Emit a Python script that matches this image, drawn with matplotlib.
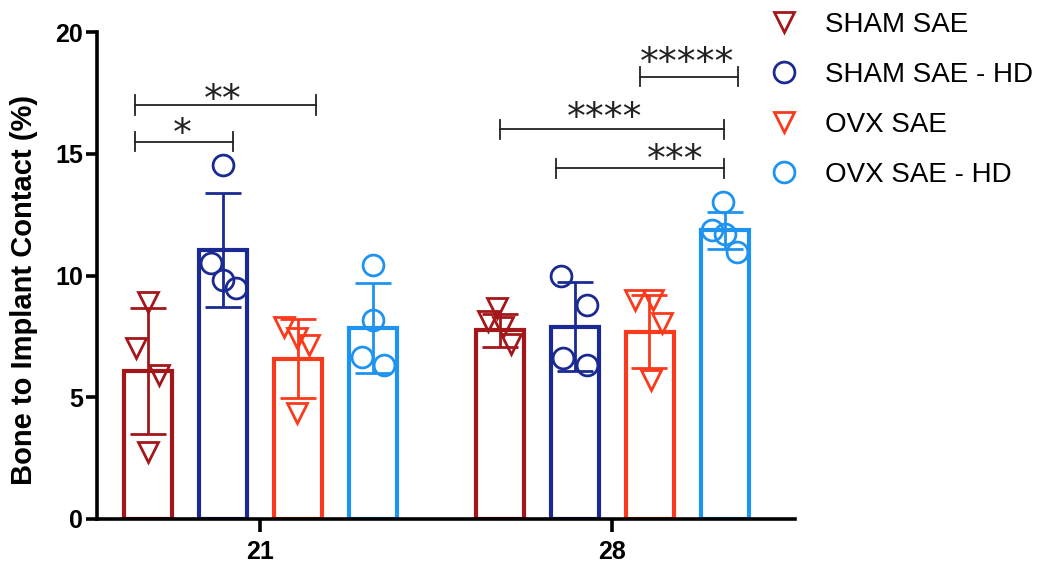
import numpy as np
import matplotlib
matplotlib.use("Agg")
import matplotlib.pyplot as plt
from matplotlib.lines import Line2D

plt.rcParams["font.family"] = ["Liberation Sans", "DejaVu Sans"]

days = ["21", "28"]
groups = ["SHAM SAE", "SHAM SAE - HD", "OVX SAE", "OVX SAE - HD"]
colors = ["#A3171B", "#1B2A93", "#FA3A1C", "#1F93F0"]
markers = ["v", "o", "v", "o"]

# bar means and SD per group, one entry per day
means = {
    "SHAM SAE": [6.07, 7.75],
    "SHAM SAE - HD": [11.05, 7.9],
    "OVX SAE": [6.58, 7.7],
    "OVX SAE - HD": [7.84, 11.85],
}
sds = {
    "SHAM SAE": [2.58, 0.68],
    "SHAM SAE - HD": [2.35, 1.83],
    "OVX SAE": [1.63, 1.5],
    "OVX SAE - HD": [1.86, 0.75],
}
# individual animals
points = {
    "SHAM SAE": [[8.92, 7.01, 5.91, 2.76], [8.65, 8.15, 7.9, 7.2]],
    "SHAM SAE - HD": [[14.54, 10.5, 9.8, 9.47], [10.0, 8.79, 6.6, 6.32]],
    "OVX SAE": [[7.9, 7.43, 7.15, 4.35], [8.99, 8.99, 8.04, 5.71]],
    "OVX SAE - HD": [[10.43, 8.17, 6.67, 6.32], [13.03, 11.85, 11.7, 10.95]],
}
# horizontal scatter of the dots inside each bar (pixels)
jitter = {
    "SHAM SAE": [[0, -12, 11, 0], [-2, -12, 3, 11]],
    "SHAM SAE - HD": [[0, -12, 0, 13], [-14, 12, -12, 12]],
    "OVX SAE": [[-14, -1, 11, -1], [-14, 3, 13, 1]],
    "OVX SAE - HD": [[0, 0, -11, 11], [-1, -12, 0, 12]],
}

# significance brackets: (x start, x end, height, label, label x, label y)
brackets = [
    (-0.355, -0.077, 15.5, "*", -0.222, 15.79),
    (-0.355, 0.159, 17.0, "**", -0.105, 17.16),
    (0.682, 1.318, 16.0, "****", 0.98, 16.41),
    (0.841, 1.318, 14.4, "***", 1.179, 14.69),
    (1.080, 1.358, 18.17, "*****", 1.213, 18.67),
]

px = 1 / 352.0          # one pixel in x data units
step = 75 * px
width = 48 * px

fig = plt.figure(figsize=(10.47, 5.66), dpi=100)
ax = fig.add_axes([97 / 1047, 47 / 566, 698 / 1047, 487 / 566])

x = np.arange(len(days))
for i, g in enumerate(groups):
    xi = x + (i - 1.5) * step
    c = colors[i]
    ax.bar(xi, means[g], width=width, facecolor="white", edgecolor=c,
           linewidth=3.0, zorder=2)
    ax.errorbar(xi, means[g], yerr=sds[g], fmt="none", ecolor=c,
                elinewidth=2.0, capsize=13, capthick=2.0, zorder=3)
    for d in range(len(days)):
        jx = xi[d] + np.array(jitter[g][d]) * px
        ax.plot(jx, points[g][d], linestyle="none", marker=markers[i],
                markersize=15, markerfacecolor="none", markeredgecolor=c,
                markeredgewidth=2.0, zorder=4)

for x0, x1, y, lab, lx, ly in brackets:
    ax.plot([x0, x1], [y, y], color="#222222", lw=1.3, zorder=5)
    for xe in (x0, x1):
        ax.plot([xe, xe], [y - 0.4, y + 0.4], color="#222222", lw=1.3, zorder=5)
    ax.text(lx, ly, lab, ha="center", va="center", fontsize=27,
            family="DejaVu Sans", color="#222222")

ax.set_xlim(-163 * px, 535 * px)
ax.set_ylim(0, 20)
ax.set_yticks([0, 5, 10, 15, 20])
ax.set_xticks(x)
ax.set_xticklabels(days)

for s in ["top", "right"]:
    ax.spines[s].set_visible(False)
for s in ["left", "bottom"]:
    ax.spines[s].set_linewidth(2.6)
ax.tick_params(axis="both", width=2.6, length=8, labelsize=18, pad=2)
ax.tick_params(axis="x", length=9, pad=6)
for t in ax.get_xticklabels() + ax.get_yticklabels():
    t.set_fontweight("bold")

ax.set_ylabel("Bone to Implant Contact (%)", fontsize=21, fontweight="bold")
ax.yaxis.set_label_coords(-0.085, 0.47)

handles = [Line2D([], [], linestyle="none", marker=markers[i], markersize=15,
                  markerfacecolor="none", markeredgecolor=colors[i],
                  markeredgewidth=2.0) for i in range(len(groups))]
fig.legend(handles, groups, loc="upper left", bbox_to_anchor=(740 / 1047, 1.008),
           frameon=False, fontsize=20, handletextpad=0.45, labelspacing=0.86,
           borderaxespad=0.2)

fig.savefig("out.png", dpi=100)
